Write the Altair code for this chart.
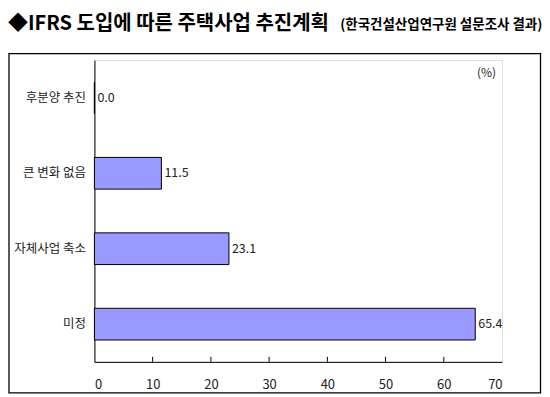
import altair as alt
import pandas as pd

categories = ["후분양 추진", "큰 변화 없음", "자체사업 축소", "미정"]
values = [0.0, 11.5, 23.1, 65.4]
x_ticks = [0, 10, 20, 30, 40, 50, 60, 70]
inner_ticks = [10, 20, 30, 40, 50, 60]
title_main = "◆IFRS 도입에 따른 주택사업 추진계획"
title_sub = "(한국건설산업연구원 설문조사 결과)"
unit = "(%)"

FONT = "Noto Sans CJK KR"
df = pd.DataFrame({"cat": categories, "val": values,
                   "lbl": [f"{v:.1f}" for v in values]})
ticks_df = pd.DataFrame({"t": inner_ticks})

W, H = 408, 302

x_scale = alt.Scale(domain=[0, 70], nice=False)
y_enc = alt.Y("cat:N", sort=categories, title=None,
              scale=alt.Scale(paddingInner=0.58, paddingOuter=0.29),
              axis=alt.Axis(labelFont=FONT, labelFontSize=12.5, labelColor="#222",
                            ticks=False, domainColor="#000", labelPadding=9))

frame = alt.Chart(pd.DataFrame({"a": [0]})).mark_rect(
    fill=None, stroke="#000", strokeWidth=1.3).encode(
    x=alt.value(-85.5), x2=alt.value(446.5), y=alt.value(-6.5), y2=alt.value(333))

bars = alt.Chart(df).mark_bar(color="#9999FF", stroke="#000", strokeWidth=1).encode(
    x=alt.X("val:Q", scale=x_scale, title=None,
            axis=alt.Axis(values=x_ticks, labelFont=FONT, labelFontSize=13,
                          labelColor="#222", ticks=False, grid=False,
                          domainColor="#000", labelPadding=17)),
    y=y_enc,
)

labels = alt.Chart(df).mark_text(align="left", baseline="middle", dx=3,
                                 font=FONT, fontSize=12.5, color="#222").encode(
    x=alt.X("val:Q", scale=x_scale), y=alt.Y("cat:N", sort=categories), text="lbl:N")

tick_marks = alt.Chart(ticks_df).mark_rule(color="#000").encode(
    x=alt.X("t:Q", scale=x_scale), y=alt.value(H - 5), y2=alt.value(H))

t1 = alt.Chart(pd.DataFrame({"s": [title_main]})).mark_text(
    align="left", baseline="middle", font=FONT, fontSize=20, fontWeight="bold",
    color="#000").encode(x=alt.value(-86.5), y=alt.value(-36.5), text="s:N")
t2 = alt.Chart(pd.DataFrame({"s": [title_sub]})).mark_text(
    align="left", baseline="middle", font=FONT, fontSize=13.5, fontWeight="bold",
    color="#000").encode(x=alt.value(246), y=alt.value(-35.5), text="s:N")
t3 = alt.Chart(pd.DataFrame({"s": [unit]})).mark_text(
    align="right", baseline="middle", font=FONT, fontSize=12, color="#222").encode(
    x=alt.value(402), y=alt.value(13), text="s:N")

chart = alt.layer(frame, bars, labels, tick_marks, t1, t2, t3).properties(
    width=W, height=H,
    autosize=alt.AutoSizeParams(type="none"),
    padding={"left": 86.5, "top": 52, "right": 40, "bottom": 35},
).configure_view(stroke="#888", strokeWidth=1).configure(background="white")

chart.save("out.html", embed_options={"renderer": "svg", "actions": False})
